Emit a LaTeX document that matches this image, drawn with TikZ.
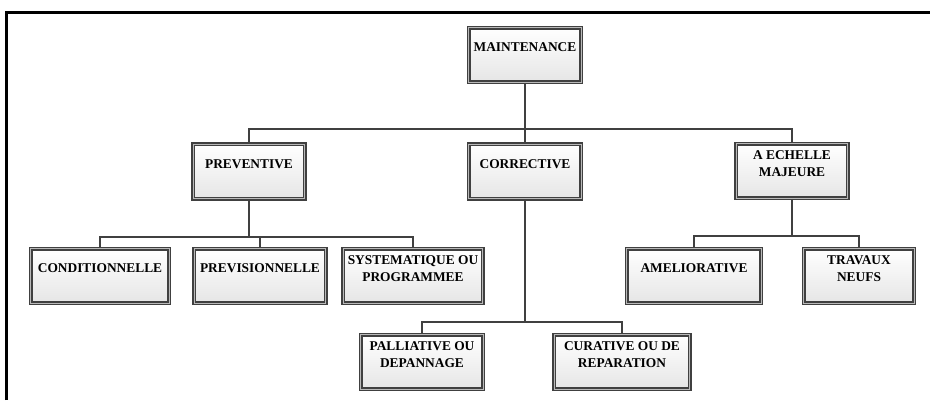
\documentclass[tikz,border=0pt]{standalone}
\usepackage{fontspec}
\setmainfont{Liberation Serif}
\usepackage{tikz}
\usetikzlibrary{shadows}

\begin{document}
\begin{tikzpicture}[x=1pt, y=-1pt,
  blk/.style={draw=black!75, double=gray!55, double distance=1.4pt, line width=1.1pt,
    top color=white, bottom color=gray!20,
    drop shadow={shadow xshift=1.8pt, shadow yshift=-1.8pt, fill=gray!40, opacity=0.7},
    minimum height=54.5pt, inner sep=0pt, align=center,
    font=\fontsize{13.4}{17.5}\selectfont\bfseries,
    execute at end node={\rule[-15pt]{0pt}{0pt}}},
  lnk/.style={draw=black!75, line width=1.8pt}]
\useasboundingbox (0,0) rectangle (930,400);
% cadre
\draw[line width=2.2pt] (6.5,400) -- (6.5,12.5) -- (931,12.5);
% niveau 1 et 2
\node[blk, minimum width=112.5pt] (maint) at (525,55) {MAINTENANCE};
\node[blk, minimum width=111.5pt] (prev) at (249,171.5) {PREVENTIVE};
\node[blk, minimum width=112.5pt] (corr) at (525,171.5) {CORRECTIVE};
\node[blk, minimum width=111.5pt] (aem) at (792,171) {A ECHELLE\\MAJEURE};
% niveau 3
\node[blk, minimum width=138.5pt] (cond) at (100,276) {CONDITIONNELLE};
\node[blk, minimum width=131.5pt] (previs) at (260,276) {PREVISIONNELLE};
\node[blk, minimum width=139.5pt] (syst) at (413,276) {SYSTEMATIQUE OU\\PROGRAMMEE};
\node[blk, minimum width=134.5pt] (amel) at (694,276) {AMELIORATIVE};
\node[blk, minimum width=110.5pt] (trav) at (859,276) {TRAVAUX\\NEUFS};
\node[blk, minimum width=122.5pt] (pall) at (422,362) {PALLIATIVE OU\\DEPANNAGE};
\node[blk, minimum width=135.5pt] (cur) at (622,362) {CURATIVE OU DE\\REPARATION};
% liaisons
\coordinate (bus1) at (525,129);
\coordinate (bus2) at (249,237);
\coordinate (bus3) at (792,236);
\coordinate (bus4) at (525,322);
\draw[lnk] (maint.south) -- (corr.north);
\draw[lnk] (prev.north) |- (bus1) -| (aem.north);
\draw[lnk] (prev.south) -- (bus2);
\draw[lnk] (cond.north) |- (bus2) -| (syst.north);
\draw[lnk] (previs.north) -- (previs.north |- bus2);
\draw[lnk] (aem.south) -- (bus3);
\draw[lnk] (amel.north) |- (bus3) -| (trav.north);
\draw[lnk] (corr.south) -- (bus4);
\draw[lnk] (pall.north) |- (bus4) -| (cur.north);
\end{tikzpicture}
\end{document}
